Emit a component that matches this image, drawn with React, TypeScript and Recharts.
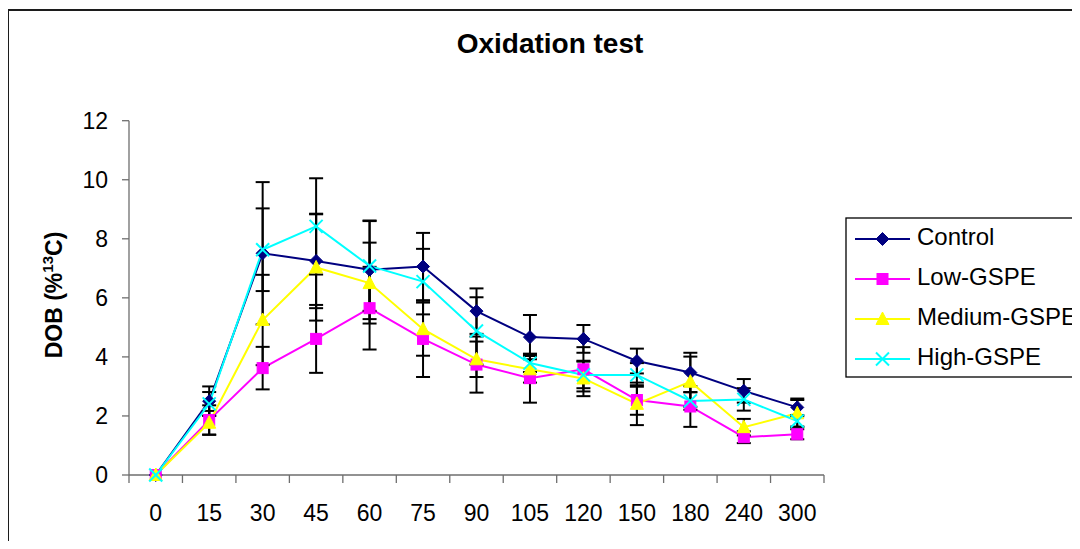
import React from 'react';
import { ComposedChart, Line, XAxis, YAxis, ErrorBar, Legend, Label } from 'recharts';

// Sampling times (min)
const times = ['0', '15', '30', '45', '60', '75', '90', '105', '120', '150', '180', '240', '300'];

// DOB (%13C) means and standard deviations per group
const controlValues = [0, 2.5, 7.51, 7.25, 6.95, 7.06, 5.55, 4.67, 4.61, 3.86, 3.47, 2.85, 2.29];
const controlErrors = [0, 0.5, 2.41, 1.6, 1.67, 1.14, 0.77, 0.75, 0.47, 0.42, 0.67, 0.4, 0.3];

const lowValues = [0, 1.86, 3.62, 4.61, 5.65, 4.61, 3.74, 3.28, 3.58, 2.54, 2.32, 1.28, 1.38];
const lowErrors = [0, 0.5, 0.72, 1.15, 1.4, 1.29, 0.95, 0.83, 0.75, 0.5, 0.69, 0.2, 0.17];

const mediumValues = [0, 1.77, 5.25, 7.03, 6.5, 4.94, 3.92, 3.58, 3.27, 2.41, 3.16, 1.62, 2.09];
const mediumErrors = [0, 0.4, 1.53, 1.8, 1.37, 0.9, 0.6, 0.45, 0.6, 0.72, 0.85, 0.28, 0.45];

const highValues = [0, 2.41, 7.63, 8.42, 7.08, 6.55, 4.88, 3.79, 3.39, 3.39, 2.51, 2.56, 1.83];
const highErrors = [0, 0.4, 1.4, 1.63, 1.52, 1.11, 1.14, 0.3, 0.45, 0.4, 0.3, 0.38, 0.2];

const yTicks = [0, 2, 4, 6, 8, 10, 12];

type MarkerShape = 'diamond' | 'square' | 'triangle' | 'cross';

interface Series {
  key: string;
  name: string;
  color: string;
  marker: MarkerShape;
  values: number[];
  errors: number[];
}

const seriesList: Series[] = [
  { key: 'control', name: 'Control', color: '#000080', marker: 'diamond', values: controlValues, errors: controlErrors },
  { key: 'low', name: 'Low-GSPE', color: '#FF00FF', marker: 'square', values: lowValues, errors: lowErrors },
  { key: 'medium', name: 'Medium-GSPE', color: '#FFFF00', marker: 'triangle', values: mediumValues, errors: mediumErrors },
  { key: 'high', name: 'High-GSPE', color: '#00FFFF', marker: 'cross', values: highValues, errors: highErrors },
];

const data = times.map((t, i) => {
  const row: Record<string, string | number> = { time: t };
  seriesList.forEach((s) => {
    row[s.key] = s.values[i];
    row[`${s.key}Err`] = s.errors[i];
  });
  return row;
});

const FONT = '"Liberation Sans", Arial, Helvetica, sans-serif';
const AXIS_COLOR = '#6e6e6e';
const X_TICK_SIZE = 8;
const X_TICK_MARGIN = 22;
const CHART_W = 1072;
const CHART_H = 533;
const MARGIN = { top: 112.7, right: 256, bottom: 26, left: 61 };
const Y_AXIS_W = 60;
// half of one category band, used to put tick marks between categories
const HALF_BAND = (CHART_W - MARGIN.left - MARGIN.right - Y_AXIS_W) / times.length / 2;

function markerShape(shape: MarkerShape, cx: number, cy: number, color: string) {
  const r = 6.5;
  switch (shape) {
    case 'diamond':
      return (
        <polygon
          points={`${cx},${cy - r} ${cx + r},${cy} ${cx},${cy + r} ${cx - r},${cy}`}
          fill={color}
          stroke={color}
          strokeWidth={1}
        />
      );
    case 'square':
      return <rect x={cx - 5.5} y={cy - 5.5} width={11} height={11} fill={color} stroke={color} strokeWidth={1} />;
    case 'triangle':
      return (
        <polygon
          points={`${cx},${cy - 7} ${cx + 6.5},${cy + 5.5} ${cx - 6.5},${cy + 5.5}`}
          fill={color}
          stroke={color}
          strokeWidth={1}
        />
      );
    case 'cross':
    default:
      return (
        <g stroke={color} strokeWidth={2}>
          <line x1={cx - r} y1={cy - r} x2={cx + r} y2={cy + r} />
          <line x1={cx - r} y1={cy + r} x2={cx + r} y2={cy - r} />
        </g>
      );
  }
}

const makeDot = (shape: MarkerShape, color: string) => (props: any) => {
  const { cx, cy, index } = props;
  if (cx == null || cy == null) return <g key={`${shape}-${index}`} />;
  return <g key={`${shape}-${index}`}>{markerShape(shape, cx, cy, color)}</g>;
};

const XTick = (props: any) => {
  const { x, y, payload, index } = props;
  const axisY = y - X_TICK_MARGIN - X_TICK_SIZE;
  const isLast = index === times.length - 1;
  return (
    <g>
      <line x1={x - HALF_BAND} y1={axisY} x2={x - HALF_BAND} y2={axisY + X_TICK_SIZE} stroke={AXIS_COLOR} strokeWidth={1.3} />
      {isLast && (
        <line x1={x + HALF_BAND} y1={axisY} x2={x + HALF_BAND} y2={axisY + X_TICK_SIZE} stroke={AXIS_COLOR} strokeWidth={1.3} />
      )}
      <text x={x} y={y} dy="0.71em" textAnchor="middle" fontFamily={FONT} fontSize={23} fill="#000">
        {payload.value}
      </text>
    </g>
  );
};

const YTick = (props: any) => {
  const { x, y, payload } = props;
  return (
    <text x={x} y={y} dy="0.35em" textAnchor="end" fontFamily={FONT} fontSize={23} fill="#000">
      {payload.value}
    </text>
  );
};

const YTitle = () => (
  <text
    transform="translate(54,287) rotate(-90)"
    textAnchor="middle"
    fontFamily={FONT}
    fontWeight="bold"
    fontSize={23}
    fill="#000"
  >
    <tspan>DOB (%</tspan>
    <tspan dy={-9} fontSize={15}>13</tspan>
    <tspan dy={9}>C)</tspan>
  </text>
);

const LegendBox = () => (
  <svg width={234} height={170} style={{ display: 'block' }}>
    <rect x={1} y={1} width={300} height={159} fill="#fff" stroke="#000" strokeWidth={1.3} />
    {seriesList.map((s, i) => {
      const cy = 22 + i * 40;
      return (
        <g key={s.key}>
          <line x1={10} y1={cy} x2={65} y2={cy} stroke={s.color} strokeWidth={2} />
          {markerShape(s.marker, 37.5, cy, s.color)}
          <text x={72} y={cy + 6} fontFamily={FONT} fontSize={24} fill="#000">
            {s.name}
          </text>
        </g>
      );
    })}
  </svg>
);

export default function App() {
  return (
    <div style={{ position: 'relative', width: CHART_W, height: CHART_H }}>
      <div
        style={{
          position: 'absolute',
          left: -1,
          top: 1,
          right: 0,
          bottom: 0,
          borderTop: '2px solid #1c1c1c',
          borderLeft: '2px solid #1c1c1c',
          pointerEvents: 'none',
        }}
      />
      <ComposedChart width={CHART_W} height={CHART_H} data={data} margin={MARGIN} style={{ fontFamily: FONT }}>
        <text x={542} y={45} textAnchor="middle" fontFamily={FONT} fontWeight="bold" fontSize={28} fill="#000">
          Oxidation test
        </text>
        <XAxis
          dataKey="time"
          type="category"
          scale="band"
          interval={0}
          height={40}
          tickLine={false}
          tickSize={X_TICK_SIZE}
          tickMargin={X_TICK_MARGIN}
          axisLine={{ stroke: AXIS_COLOR, strokeWidth: 1.3 }}
          tick={<XTick />}
        />
        <YAxis
          type="number"
          domain={[0, 12]}
          ticks={yTicks}
          width={Y_AXIS_W}
          tickSize={7}
          tickMargin={14}
          axisLine={{ stroke: AXIS_COLOR, strokeWidth: 1.3 }}
          tickLine={{ stroke: AXIS_COLOR, strokeWidth: 1.3 }}
          tick={<YTick />}
        >
          <Label content={<YTitle />} />
        </YAxis>
        <Legend
          layout="vertical"
          align="center"
          verticalAlign="middle"
          content={<LegendBox />}
          wrapperStyle={{ position: 'absolute', left: 837, top: 209, width: 234, height: 170 }}
        />
        {seriesList.map((s) => (
          <Line
            key={s.key}
            type="linear"
            dataKey={s.key}
            name={s.name}
            stroke={s.color}
            strokeWidth={2}
            dot={makeDot(s.marker, s.color)}
            activeDot={false}
            isAnimationActive={false}
          >
            <ErrorBar dataKey={`${s.key}Err`} direction="y" width={7} stroke="#000" strokeWidth={2} />
          </Line>
        ))}
      </ComposedChart>
    </div>
  );
}
